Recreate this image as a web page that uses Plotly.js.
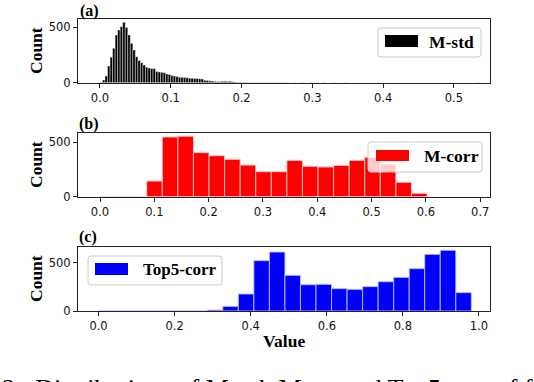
<!DOCTYPE html>
<html>
<head>
<meta charset="utf-8">
<script src="https://cdn.plot.ly/plotly-3.0.1.min.js"></script>
<style>
html, body { margin: 0; padding: 0; background: #fff; }
#chart { width: 534px; height: 382px; }
</style>
</head>
<body>
<div id="chart"></div>
<script>
// histogram bins: first edge, bin width, count per bin
var mstdStart = 0.0, mstdWidth = 0.00357;
var mstdCounts = [
    5, 24, 60, 150, 230, 310, 430, 475, 505, 545,
    497, 430, 355, 295, 234, 200, 180, 160, 140, 132,
    128, 125, 100, 97, 93, 90, 78, 74, 64, 60,
    56, 50, 48, 46, 44, 40, 39, 38, 37, 36,
    34, 22, 19, 17, 15, 10, 9, 8, 12, 13,
    11, 12, 9, 6, 4, 4, 3, 3, 2, 2,
    2, 2, 1, 1, 2, 1, 1, 1, 1, 1,
    1, 1, 1, 1, 1, 0, 1, 1, 0, 1,
    1, 0, 0, 1, 0, 1, 0, 0, 1, 0,
    0, 0, 1, 0, 0, 0, 0, 1, 0, 0,
    0, 0, 0, 0, 0, 0, 0, 0, 0, 0,
    0, 0, 0, 0, 0, 0, 0, 0, 0, 0,
    0, 0, 0, 0, 0, 0, 0, 0, 0, 0,
    0, 0, 0, 0, 0, 0, 0, 0, 0, 0,
    0, 0, 0, 0, 0, 0, 0, 0, 0, 1
];
var mcorrStart = 0.0, mcorrWidth = 0.02867;
var mcorrCounts = [0, 0, 0, 144, 549, 555, 405, 377, 344, 291, 230, 230, 334, 279, 273, 288, 334, 362, 300, 132, 31];
var topStart = 0.0, topWidth = 0.04083;
var topCounts = [0, 0, 0, 0, 0, 0, 0, 10, 48, 176, 521, 610, 369, 272, 276, 231, 224, 252, 303, 348, 438, 586, 628, 190];

var seriesNames = ['M-std', 'M-corr', 'Top5-corr'];
var seriesColors = ['#000000', '#ff0000', '#0000ff'];
var panelLabels = ['(a)', '(b)', '(c)'];

var W = 534, H = 382;
function px(x) { return x / W; }
function py(y) { return 1 - y / H; }

function centers(start, width, n) {
    var xs = [];
    for (var i = 0; i < n; i++) xs.push(start + width * (i + 0.5));
    return xs;
}

var data = [
    {
        type: 'bar', x: centers(mstdStart, mstdWidth, mstdCounts.length), y: mstdCounts,
        width: mstdWidth, xaxis: 'x', yaxis: 'y', hoverinfo: 'skip', showlegend: false,
        marker: { color: seriesColors[0], line: { color: 'rgba(255,255,255,0.85)', width: 0.5 } }
    },
    {
        type: 'bar', x: centers(mcorrStart, mcorrWidth, mcorrCounts.length), y: mcorrCounts,
        width: mcorrWidth, xaxis: 'x2', yaxis: 'y2', hoverinfo: 'skip', showlegend: false,
        marker: { color: seriesColors[1], line: { color: 'rgba(255,200,200,0.9)', width: 1 } }
    },
    {
        type: 'bar', x: centers(topStart, topWidth, topCounts.length), y: topCounts,
        width: topWidth, xaxis: 'x3', yaxis: 'y3', hoverinfo: 'skip', showlegend: false,
        marker: { color: seriesColors[2], line: { color: 'rgba(190,190,255,0.9)', width: 1 } }
    }
];

var xDom = [px(78), px(490)];

function axis(extra) {
    var a = {
        showline: true, mirror: true, linecolor: '#222', linewidth: 1,
        ticks: 'outside', ticklen: 4, tickwidth: 1, tickcolor: '#222',
        showgrid: false, zeroline: false,
        tickfont: { family: 'DejaVu Sans', size: 11.5, color: '#111' }
    };
    for (var k in extra) a[k] = extra[k];
    return a;
}

// legend frame with rounded corners, in pixel coords -> paper
function legendBox(x0, y0, x1, y1) {
    var r = 3;
    var p = 'M' + px(x0 + r) + ',' + py(y0) +
        ' L' + px(x1 - r) + ',' + py(y0) +
        ' Q' + px(x1) + ',' + py(y0) + ' ' + px(x1) + ',' + py(y0 + r) +
        ' L' + px(x1) + ',' + py(y1 - r) +
        ' Q' + px(x1) + ',' + py(y1) + ' ' + px(x1 - r) + ',' + py(y1) +
        ' L' + px(x0 + r) + ',' + py(y1) +
        ' Q' + px(x0) + ',' + py(y1) + ' ' + px(x0) + ',' + py(y1 - r) +
        ' L' + px(x0) + ',' + py(y0 + r) +
        ' Q' + px(x0) + ',' + py(y0) + ' ' + px(x0 + r) + ',' + py(y0) + ' Z';
    return {
        type: 'path', xref: 'paper', yref: 'paper', path: p,
        fillcolor: 'rgba(255,255,255,0.8)', line: { color: '#cccccc', width: 1 }
    };
}
function swatch(x0, y0, x1, y1, color) {
    return {
        type: 'rect', xref: 'paper', yref: 'paper',
        x0: px(x0), x1: px(x1), y0: py(y1), y1: py(y0),
        fillcolor: color, line: { width: 0 }
    };
}

var serif = 'Liberation Serif, Times New Roman, serif';
function label(text, x, y, size, extra) {
    var a = {
        text: text, xref: 'paper', yref: 'paper', x: px(x), y: py(y),
        xanchor: 'center', yanchor: 'middle',
        showarrow: false, font: { family: serif, size: size, color: '#000' }
    };
    for (var k in extra) a[k] = extra[k];
    return a;
}

var layout = {
    width: W, height: H,
    margin: { l: 0, r: 0, t: 0, b: 0 },
    paper_bgcolor: '#fff', plot_bgcolor: '#fff',
    bargap: 0, showlegend: false,
    xaxis: axis({ domain: xDom, anchor: 'y', range: [-0.031, 0.551], tick0: 0, dtick: 0.1, tickformat: '.1f' }),
    yaxis: axis({ domain: [py(82.7), py(19.3)], anchor: 'x', range: [0, 571], tickvals: [0, 500] }),
    xaxis2: axis({ domain: xDom, anchor: 'y2', range: [-0.0405, 0.718], tick0: 0, dtick: 0.1, tickformat: '.1f' }),
    yaxis2: axis({ domain: [py(196.7), py(133.3)], anchor: 'x2', range: [0, 583], tickvals: [0, 500] }),
    xaxis3: axis({ domain: xDom, anchor: 'y3', range: [-0.054, 1.029], tick0: 0, dtick: 0.2, tickformat: '.1f' }),
    yaxis3: axis({ domain: [py(311), py(247.3)], anchor: 'x3', range: [0, 659], tickvals: [0, 500] }),
    shapes: [
        legendBox(378, 28, 481, 57), swatch(385, 35, 418, 47, seriesColors[0]),
        legendBox(368, 142, 482, 172), swatch(376, 150, 409, 161, seriesColors[1]),
        legendBox(88, 256, 222, 285), swatch(95, 263, 128, 275, seriesColors[2])
    ],
    annotations: [
        label('<b>' + seriesNames[0] + '</b>', 427, 41.5, 17.5, { xanchor: 'left' }),
        label('<b>' + seriesNames[1] + '</b>', 422, 156, 17.5, { xanchor: 'left' }),
        label('<b>' + seriesNames[2] + '</b>', 141, 269.5, 17, { xanchor: 'left' }),
        label('<b>' + panelLabels[0] + '</b>', 89, 11, 16),
        label('<b>' + panelLabels[1] + '</b>', 89, 124, 16),
        label('<b>' + panelLabels[2] + '</b>', 88, 237, 16),
        label('<b>Count</b>', 36, 51, 17.5, { textangle: -90 }),
        label('<b>Count</b>', 36, 165, 17.5, { textangle: -90 }),
        label('<b>Count</b>', 36, 279, 17.5, { textangle: -90 }),
        label('<b>Value</b>', 284, 341, 17.5),
        label('2:  Distributions of Match Mean and Top5 corr of features', 0, 372, 26, { xanchor: 'left', yanchor: 'top' })
    ]
};

Plotly.newPlot('chart', data, layout, { displayModeBar: false, staticPlot: true });
</script>
</body>
</html>
